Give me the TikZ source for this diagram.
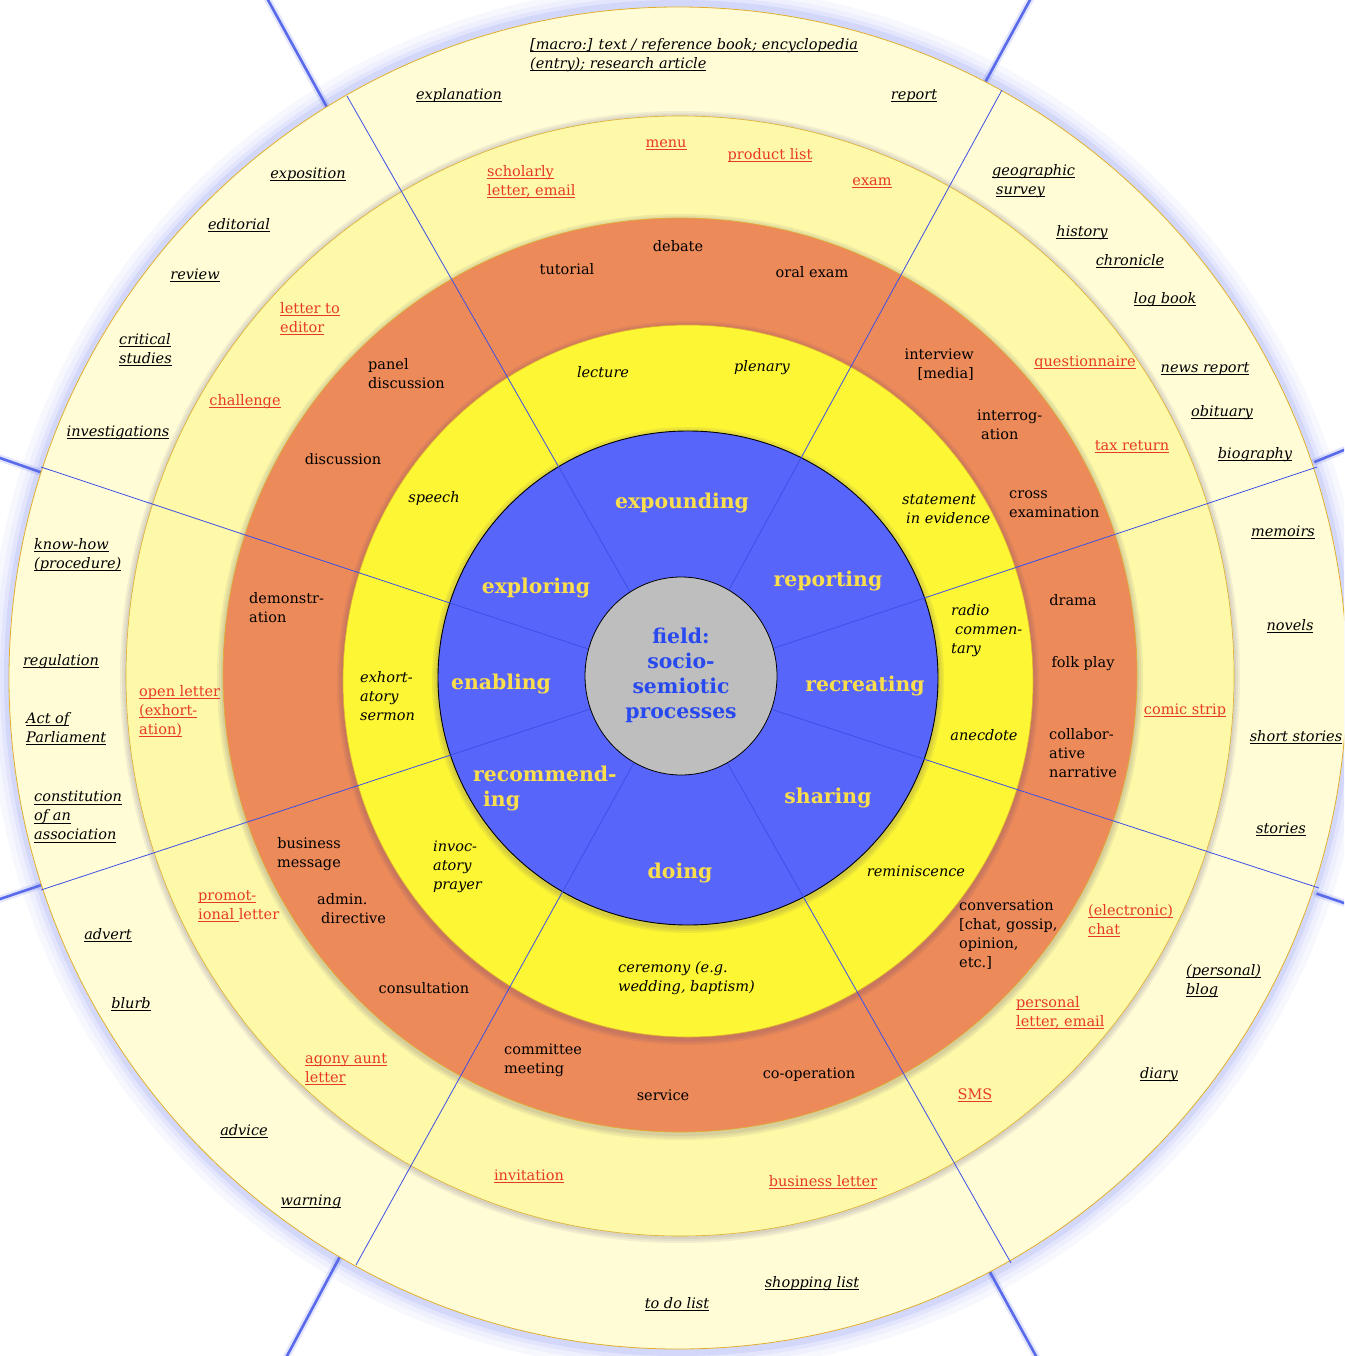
\documentclass[tikz,border=0pt]{standalone}
\usepackage{fontspec}
\setmainfont{DejaVu Serif}
\usepackage{tikz}
\usetikzlibrary{calc}
\usetikzlibrary{positioning}
\definecolor{paleout}{RGB}{255, 252, 214}
\definecolor{palein}{RGB}{253, 249, 168}
\definecolor{tangerine}{RGB}{236, 138, 90}
\definecolor{lemon}{RGB}{252, 246, 52}
\definecolor{royal}{RGB}{88, 101, 250}
\definecolor{ash}{RGB}{190, 190, 190}
\definecolor{goldtext}{RGB}{250, 222, 76}
\definecolor{genrered}{RGB}{232, 56, 40}
\definecolor{fieldblue}{RGB}{40, 72, 240}
\definecolor{spokeblue}{RGB}{60, 80, 230}
\definecolor{rim}{RGB}{225, 175, 45}
\definecolor{shade}{RGB}{60, 40, 110}
\newcommand{\ulw}[1]{\setbox0\hbox{#1}\rlap{\rule[-2.5pt]{\wd0}{0.8pt}}\box0}

\begin{document}
\begin{tikzpicture}[x=1pt, y=-1pt,
    every node/.style={inner sep=0pt, yshift=-2.5pt, execute at begin node=\strut, execute at end node=\strut},
    outerlbl/.style={font=\fontsize{14.5}{19}\selectfont\itshape},
    genrelbl/.style={font=\fontsize{14.5}{19}\selectfont, text=genrered},
    activitylbl/.style={font=\fontsize{14.5}{19}\selectfont},
    speechlbl/.style={font=\fontsize{14.5}{19}\selectfont\itshape},
    processlbl/.style={font=\fontsize{20.4}{25}\selectfont\bfseries, text=goldtext},
    fieldlbl/.style={font=\fontsize{20.4}{25}\selectfont\bfseries, text=fieldblue, align=center},
    multi/.style={align=left, anchor=west},
    ringshadow/.style={fill=shade, opacity=0.07},
    spokeline/.style={draw=spokeblue, line width=0.8pt},
    rayglow/.style={draw=spokeblue, line width=7pt, opacity=0.15, line cap=round},
    ray/.style={draw=spokeblue!85, line width=2.6pt}]
    \useasboundingbox (0,0) rectangle (1344,1356);
    \clip (0,0) rectangle (1344,1356);
    % Glow round the outer ring
    \fill[spokeblue, opacity=0.04] (678,678) ellipse [x radius=689pt, y radius=693pt];
    \fill[spokeblue, opacity=0.05] (678,678) ellipse [x radius=683pt, y radius=687pt];
    \fill[spokeblue, opacity=0.07] (678,678) ellipse [x radius=678pt, y radius=682pt];
    \fill[spokeblue, opacity=0.09] (678,678) ellipse [x radius=674pt, y radius=678pt];
    % Rays beyond the outer ring
    \draw[rayglow] (329.3,111.5) -- (256.3,-21.3);
    \draw[rayglow] (985.1,82.5)  -- (1042.9,-23.7);
    \draw[rayglow] (1314.3,462.1) -- (1371,439);
    \draw[rayglow] (1316.5,893.6) -- (1369,911.5);
    \draw[rayglow] (988.8,1270)  -- (1049.5,1380.6);
    \draw[rayglow] (341.2,1254.2) -- (271.5,1385);
    \draw[rayglow] (41.5,885)    -- (-19.3,905.5);
    \draw[rayglow] (41.5,472.5)  -- (-19.3,451.25);
    \draw[ray]     (329.3,111.5) -- (256.3,-21.3);
    \draw[ray]     (985.1,82.5)  -- (1042.9,-23.7);
    \draw[ray]     (1314.3,462.1) -- (1371,439);
    \draw[ray]     (1316.5,893.6) -- (1369,911.5);
    \draw[ray]     (988.8,1270)  -- (1049.5,1380.6);
    \draw[ray]     (341.2,1254.2) -- (271.5,1385);
    \draw[ray]     (41.5,885)    -- (-19.3,905.5);
    \draw[ray]     (41.5,472.5)  -- (-19.3,451.25);
    % Text types
    \filldraw[fill=paleout, draw=rim, line width=0.8pt] (678,678) ellipse [x radius=669pt, y radius=671pt];
    % Genres
    \fill[ringshadow] (680,677) ellipse [x radius=560pt, y radius=566pt];
    \fill[ringshadow] (680,677) ellipse [x radius=558pt, y radius=564pt];
    \fill[ringshadow] (680,677) ellipse [x radius=556pt, y radius=562pt];
    \filldraw[fill=palein, draw=rim, line width=0.6pt] (680,676) ellipse [x radius=554pt, y radius=560pt];
    % Activities
    \fill[ringshadow] (680,677) ellipse [x radius=463pt, y radius=463pt];
    \fill[ringshadow] (680,677) ellipse [x radius=461pt, y radius=461pt];
    \fill[ringshadow] (680,677) ellipse [x radius=459pt, y radius=459pt];
    \filldraw[fill=tangerine, draw=rim, line width=0.6pt] (680,675) circle (457pt);
    % Modes of speech
    \fill[ringshadow] (688,683) ellipse [x radius=351pt, y radius=362pt];
    \fill[ringshadow] (688,683) ellipse [x radius=349pt, y radius=360pt];
    \fill[ringshadow] (688,683) ellipse [x radius=347pt, y radius=358pt];
    \filldraw[fill=lemon, draw=rim, line width=0.6pt] (688,681) ellipse [x radius=345pt, y radius=356pt];
    % Processes
    \fill[ringshadow] (688,680) ellipse [x radius=256pt, y radius=253pt];
    \fill[ringshadow] (688,680) ellipse [x radius=254pt, y radius=251pt];
    \fill[ringshadow] (688,680) ellipse [x radius=252pt, y radius=249pt];
    \filldraw[fill=royal, draw=black, line width=0.9pt] (688,678) ellipse [x radius=250pt, y radius=247pt];
    % Spokes
    \coordinate (hub) at (680,677);
    \draw[spokeline] (hub) -- (1317,467);
    \draw[spokeline] (hub) -- (1002,90);
    \draw[spokeline] (hub) -- (347,96);
    \draw[spokeline] (hub) -- (41,467);
    \draw[spokeline] (hub) -- (41,890);
    \draw[spokeline] (hub) -- (356,1265);
    \draw[spokeline] (hub) -- (1011,1263);
    \draw[spokeline] (hub) -- (1319,888);
    % Field
    \filldraw[fill=ash, draw=black, line width=0.8pt] (681,676) ellipse [x radius=96pt, y radius=99pt];
    \node[fieldlbl] (field) at (681,674) {field:\\socio-\\semiotic\\processes};
    % Process labels
    \node[processlbl] (expounding)   at (682,501) {expounding};
    \node[processlbl] (exploring)    at (536,586) {exploring};
    \node[processlbl] (reporting)    at (828,579) {reporting};
    \node[processlbl] (enabling)     at (501,682) {enabling};
    \node[processlbl] (recreating)   at (865,684) {recreating};
    \node[processlbl, multi] (recommending) at (473,787) {recommend-\\\hspace*{10pt}ing};
    \node[processlbl] (sharing)      at (828,796) {sharing};
    \node[processlbl] (doing)        at (680,871) {doing};
    % Modes of speech
    \node[speechlbl] (lecture)       at (603,371) {lecture};
    \node[speechlbl] (plenary)       at (762,365) {plenary};
    \node[speechlbl] (speech)        at (434,496) {speech};
    \node[speechlbl, multi] (statement) at (902,509) {statement\\\hspace*{4pt}in evidence};
    \node[speechlbl, multi] (radio)  at (951,629) {radio\\\hspace*{4pt}commen-\\tary};
    \node[speechlbl, multi] (sermon) at (360,696) {exhort-\\atory\\sermon};
    \node[speechlbl] (anecdote)      at (984,734) {anecdote};
    \node[speechlbl, multi] (prayer) at (433,866) {invoc-\\atory\\prayer};
    \node[speechlbl] (reminiscence)  at (916,870) {reminiscence};
    \node[speechlbl, multi] (ceremony) at (618,977) {ceremony (e.g.\\wedding, baptism)};
    % Activities
    \node[activitylbl] (debate)      at (678,245) {debate};
    \node[activitylbl] (tutorial)    at (567,268) {tutorial};
    \node[activitylbl] (oralexam)    at (812,271) {oral exam};
    \node[activitylbl, multi] (panel) at (368,374) {panel\\discussion};
    \node[activitylbl, align=right, anchor=east] (interview) at (974,364) {interview\\{}[media]};
    \node[activitylbl] (discussion)  at (343,458) {discussion};
    \node[activitylbl, multi] (interrogation) at (977,425) {interrog-\\\hspace*{4pt}ation};
    \node[activitylbl, multi] (crossexam) at (1009,504) {cross\\examination};
    \node[activitylbl, multi] (demonstration) at (249,608) {demonstr-\\ation};
    \node[activitylbl] (drama)       at (1073,599) {drama};
    \node[activitylbl] (folkplay)    at (1083,661) {folk play};
    \node[activitylbl, multi] (collaborative) at (1049,753) {collabor-\\ative\\narrative};
    \node[activitylbl, align=center] (businessmsg) at (309,853) {business\\message};
    \node[activitylbl, multi] (directive) at (317,909) {admin.\\\hspace*{4pt}directive};
    \node[activitylbl] (consultation) at (424,987) {consultation};
    \node[activitylbl, multi] (conversation) at (959,934) {conversation\\{}[chat, gossip,\\opinion,\\etc.]};
    \node[activitylbl, multi] (committee) at (504,1059) {committee\\meeting};
    \node[activitylbl] (service)     at (663,1094) {service};
    \node[activitylbl] (cooperation) at (809,1072) {co-operation};
    % Genres
    \node[genrelbl] (menu)           at (666,141) {\ulw{menu}};
    \node[genrelbl] (productlist)    at (770,153) {\ulw{product list}};
    \node[genrelbl] (exam)           at (872,179) {\ulw{exam}};
    \node[genrelbl, multi] (scholarly) at (487,181) {\ulw{scholarly}\\\ulw{letter, email}};
    \node[genrelbl, multi] (lettertoeditor) at (280,318) {\ulw{letter to}\\\ulw{editor}};
    \node[genrelbl] (challenge)      at (245,399) {\ulw{challenge}};
    \node[genrelbl] (questionnaire)  at (1085,360) {\ulw{questionnaire}};
    \node[genrelbl] (taxreturn)      at (1132,444) {\ulw{tax return}};
    \node[genrelbl, multi] (openletter) at (139,710) {\ulw{open letter}\\\ulw{(exhort-}\\\ulw{ation)}};
    \node[genrelbl] (comicstrip)     at (1185,708) {\ulw{comic strip}};
    \node[genrelbl, multi] (chat)    at (1088,920) {\ulw{(electronic)}\\\ulw{chat}};
    \node[genrelbl, multi] (promotional) at (198,905) {\ulw{promot-}\\\ulw{ional }letter};
    \node[genrelbl, multi] (personalletter) at (1016,1012) {\ulw{personal}\\\ulw{letter, email}};
    \node[genrelbl, multi] (agonyaunt) at (305,1068) {\ulw{agony aunt}\\\ulw{letter}};
    \node[genrelbl] (sms)            at (975,1093) {\ulw{SMS}};
    \node[genrelbl] (invitation)     at (529,1174) {\ulw{invitation}};
    \node[genrelbl] (businessletter) at (823,1180) {\ulw{business letter}};
    % Text types
    \node[outerlbl, multi] (macro)   at (530,54) {\ulw{[macro:] text / reference book; encyclopedia}\\\ulw{(entry); research article}};
    \node[outerlbl] (explanation)    at (459,93) {\ulw{explanation}};
    \node[outerlbl] (report)         at (914,93) {\ulw{report}};
    \node[outerlbl] (exposition)     at (308,172) {\ulw{exposition}};
    \node[outerlbl] (editorial)      at (239,223) {\ulw{editorial}};
    \node[outerlbl] (review)         at (195,273) {\ulw{review}};
    \node[outerlbl, multi] (critical) at (119,349) {\ulw{critical}\\\ulw{studies}};
    \node[outerlbl] (investigations) at (118,430) {\ulw{investigations}};
    \node[outerlbl, multi] (knowhow) at (34,554) {\ulw{know-how}\\\ulw{(procedure)}};
    \node[outerlbl] (regulation)     at (61,659) {\ulw{regulation}};
    \node[outerlbl, multi] (parliament) at (26,728) {\ulw{Act of}\\\ulw{Parliament}};
    \node[outerlbl, multi] (constitution) at (34,816) {\ulw{constitution}\\\ulw{of an}\\\ulw{association}};
    \node[outerlbl] (advert)         at (108,933) {\ulw{advert}};
    \node[outerlbl] (blurb)          at (131,1002) {\ulw{blurb}};
    \node[outerlbl] (advice)         at (244,1129) {\ulw{advice}};
    \node[outerlbl] (warning)        at (311,1199) {\ulw{warning}};
    \node[outerlbl] (todo)           at (677,1302) {\ulw{to do list}};
    \node[outerlbl] (shopping)       at (812,1281) {\ulw{shopping list}};
    \node[outerlbl] (diary)          at (1159,1072) {\ulw{diary}};
    \node[outerlbl, multi] (blog)    at (1186,980) {\ulw{(personal)}\\\ulw{blog}};
    \node[outerlbl] (stories)        at (1281,827) {\ulw{stories}};
    \node[outerlbl] (shortstories)   at (1296,735) {\ulw{short stories}};
    \node[outerlbl] (novels)         at (1290,624) {\ulw{novels}};
    \node[outerlbl] (memoirs)        at (1283,530) {\ulw{memoirs}};
    \node[outerlbl] (biography)      at (1255,452) {\ulw{biography}};
    \node[outerlbl] (obituary)       at (1222,410) {\ulw{obituary}};
    \node[outerlbl] (newsreport)     at (1205,366) {\ulw{news report}};
    \node[outerlbl] (logbook)        at (1165,297) {\ulw{log book}};
    \node[outerlbl] (chronicle)      at (1130,259) {\ulw{chronicle}};
    \node[outerlbl] (history)        at (1082,230) {\ulw{history}};
    \node[outerlbl, multi] (survey)  at (992,180) {\ulw{geographic}\\\hspace*{4pt}\ulw{survey}};
\end{tikzpicture}
\end{document}
